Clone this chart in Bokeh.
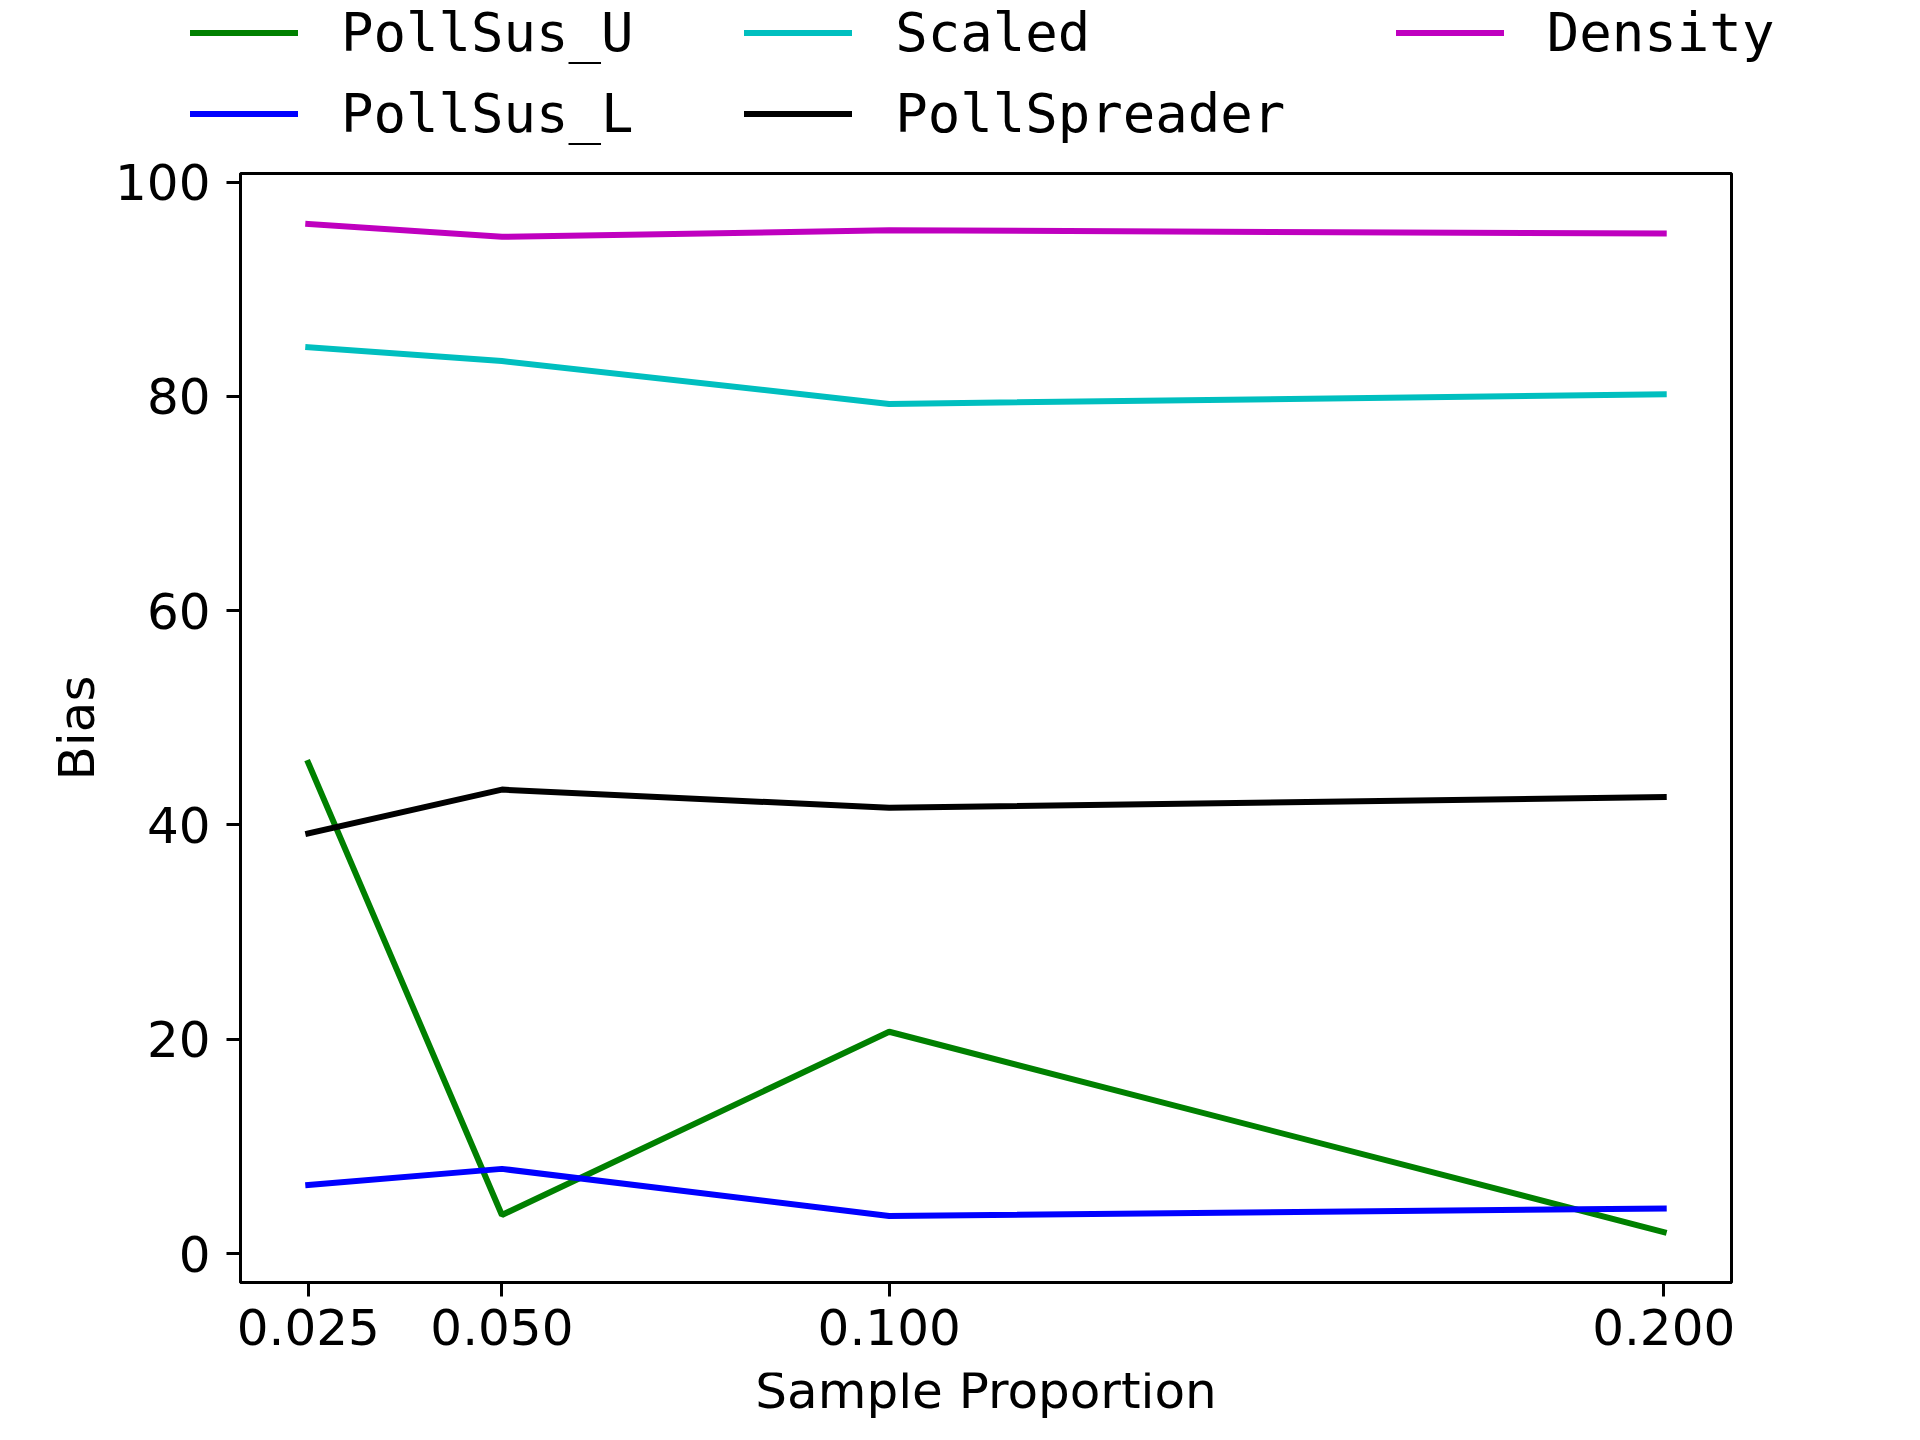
from bokeh.plotting import figure
from bokeh.models import Range1d, FixedTicker, Legend, LegendItem, Label
from bokeh.layouts import column, row
from bokeh.embed import file_html
from bokeh.resources import INLINE

# ---- data ----
sample_proportion = [0.025, 0.05, 0.1, 0.2]
x_tick_labels = ["0.025", "0.050", "0.100", "0.200"]
y_ticks = [0, 20, 40, 60, 80, 100]

poll_sus_u = [45.8, 3.6, 20.7, 2.0]
poll_sus_l = [6.4, 7.9, 3.5, 4.2]
scaled = [84.6, 83.3, 79.3, 80.2]
poll_spreader = [39.2, 43.3, 41.6, 42.6]
density = [96.1, 94.9, 95.5, 95.2]

series_names = ["PollSus_U", "PollSus_L", "Scaled", "PollSpreader", "Density"]
series_values = [poll_sus_u, poll_sus_l, scaled, poll_spreader, density]
series_colors = ["#008000", "#0000ff", "#00bfbf", "#000000", "#bf00bf"]

W, H = 1904, 1424
LEG_H = 150                        # legend strip height
FL, FR, FT = 240, 173, 173         # frame borders measured on the page
FRAME_BOTTOM = 1282
MAIN_FB = 90                       # room for ticks + tick labels
MAIN_H = FRAME_BOTTOM - LEG_H + MAIN_FB
XL_H = H - LEG_H - MAIN_H          # strip holding the x axis title


def strip(h):
    f = figure(width=W, height=h, output_backend="svg", toolbar_location=None,
               x_axis_type=None, y_axis_type=None,
               x_range=Range1d(0, 1), y_range=Range1d(0, 1),
               min_border_left=0, min_border_right=0,
               min_border_top=0, min_border_bottom=0)
    f.grid.visible = False
    f.outline_line_color = None
    f.background_fill_color = "white"
    f.border_fill_color = "white"
    return f


# ---- ranges with matplotlib-like 5% margins ----
xmin, xmax = min(sample_proportion), max(sample_proportion)
xm = (xmax - xmin) * 0.05
all_y = [v for s in series_values for v in s]
ymin, ymax = min(all_y), max(all_y)
ym = (ymax - ymin) * 0.05

# ---- main plot ----
p = figure(
    width=W, height=MAIN_H,
    output_backend="svg", toolbar_location=None,
    x_range=Range1d(xmin - xm, xmax + xm),
    y_range=Range1d(ymin - ym, ymax + ym),
    min_border_left=FL, min_border_right=FR,
    min_border_top=FT - LEG_H, min_border_bottom=MAIN_FB,
)
p.background_fill_color = "white"
p.border_fill_color = "white"
p.grid.visible = False
p.outline_line_color = "black"
p.outline_line_width = 3

for name, vals, col in zip(series_names, series_values, series_colors):
    p.line(sample_proportion, vals, line_color=col, line_width=6, line_cap="square")

p.xaxis.ticker = FixedTicker(ticks=sample_proportion)
p.xaxis.major_label_overrides = {t: l for t, l in zip(sample_proportion, x_tick_labels)}
p.yaxis.ticker = FixedTicker(ticks=y_ticks)
p.yaxis.axis_label = "Bias"
for ax in (p.xaxis, p.yaxis):
    ax.axis_line_color = "black"
    ax.axis_line_width = 3
    ax.major_tick_line_color = "black"
    ax.major_tick_line_width = 3
    ax.major_tick_in = 0
    ax.major_tick_out = 14
    ax.minor_tick_line_color = None
    ax.major_label_text_font = "DejaVu Sans"
    ax.major_label_text_font_size = "50px"
    ax.major_label_text_color = "black"
    ax.axis_label_text_font = "DejaVu Sans"
    ax.axis_label_text_font_size = "50px"
    ax.axis_label_text_font_style = "normal"
    ax.axis_label_text_color = "black"
p.yaxis.major_label_standoff = 16
p.yaxis.axis_label_standoff = 6
p.xaxis.major_label_standoff = 12

# ---- legend strip above the plot (matplotlib ncol=3, column-major) ----
lf = strip(LEG_H)
nan = float("nan")
handles = [lf.line([nan], [nan], line_color=c, line_width=6, line_cap="square")
           for c in series_colors]

pad = "\u00a0" * 3
labels = [series_names[0] + pad, series_names[1] + pad, series_names[2],
          series_names[3] + pad, series_names[4]]
items = [LegendItem(label=l, renderers=[r]) for l, r in zip(labels, handles)]
item_h, spacing, padding = 68, 13, 5
box_h = 2 * item_h + spacing + 2 * padding
box_top, box_left = -7, 185
leg = Legend(
    items=items, ncols=3, orientation="vertical",
    location=(box_left, LEG_H - box_top - box_h),
    padding=padding, margin=0, spacing=spacing,
    border_line_alpha=0, background_fill_alpha=0,
    glyph_width=108, glyph_height=27, label_height=item_h,
    label_standoff=43,
    label_text_font="DejaVu Sans Mono", label_text_font_size="54px",
    label_text_baseline="alphabetic",
    label_text_color="black",
)
lf.add_layout(leg, "center")

# ---- x axis title strip below the plot ----
xf = strip(XL_H)
frame_center = FL + (W - FL - FR) / 2
title_anchor_y = 1390 - (LEG_H + MAIN_H)       # page y of the title's anchor
xf.add_layout(Label(x=frame_center, y=XL_H - title_anchor_y,
                    x_units="screen", y_units="screen",
                    text="Sample Proportion", text_align="center",
                    text_baseline="alphabetic", text_font="DejaVu Sans",
                    text_font_size="50px", text_color="black"))

layout = column(lf, row(p), row(xf), spacing=0)
open("out.html", "w").write(file_html(layout, INLINE))
